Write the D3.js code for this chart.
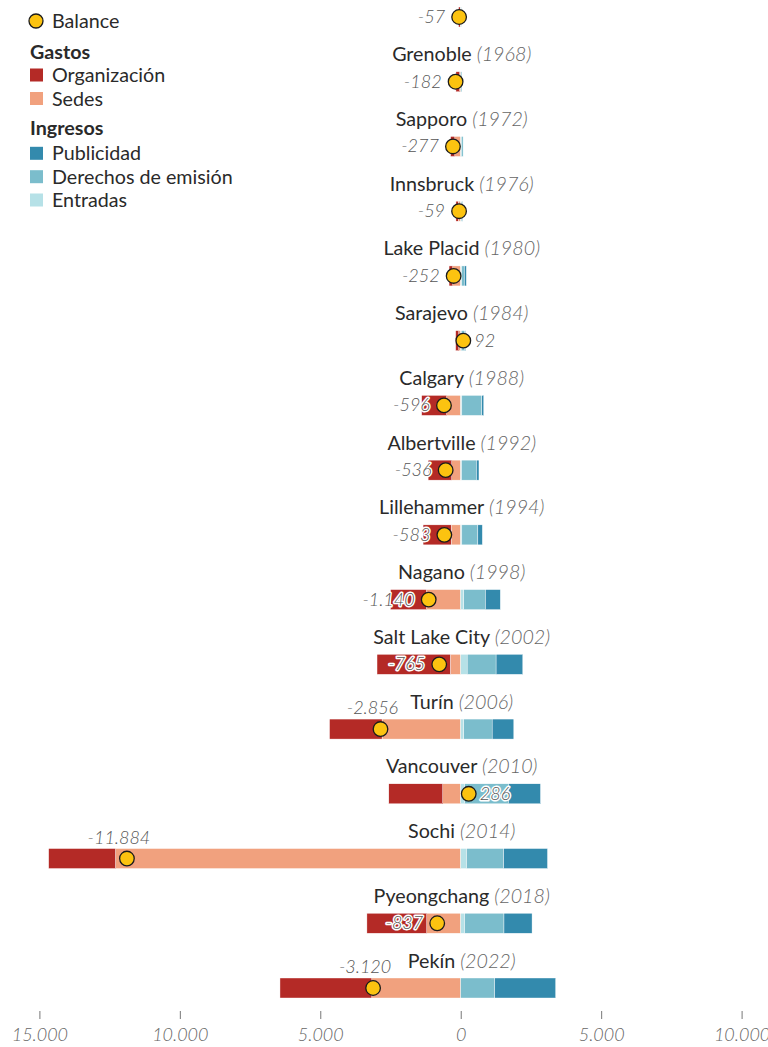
<!DOCTYPE html>
<html>
<head>
<meta charset="utf-8">
<script src="https://cdn.jsdelivr.net/npm/d3@7"></script>
<style>
  body { margin: 0; background: #fff; }
  text { font-family: Lato, "Open Sans", sans-serif; }
</style>
</head>
<body>
<div id="chart"></div>
<script>
// sedes / ediciones
var ciudades = ["Innsbruck", "Grenoble", "Sapporo", "Innsbruck ", "Lake Placid", "Sarajevo", "Calgary",
  "Albertville", "Lillehammer", "Nagano", "Salt Lake City", "Turín", "Vancouver", "Sochi", "Pyeongchang", "Pekín"];
var anios = [1964, 1968, 1972, 1976, 1980, 1984, 1988, 1992, 1994, 1998, 2002, 2006, 2010, 2014, 2018, 2022];

// gastos (millones)
var organizacion = [55, 130, 150, 80, 130, 110, 890, 840, 1000, 1280, 2610, 1870, 1920, 2380, 2130, 3270];
var sedes = [20, 40, 210, 90, 285, 70, 500, 320, 340, 1220, 370, 2800, 640, 12290, 1210, 3165];

// ingresos (millones)
var entradas = [5, 0, 25, 20, 35, 20, 40, 30, 40, 110, 230, 110, 140, 210, 140, 0];
var derechos = [15, 40, 60, 45, 95, 120, 710, 530, 570, 770, 1030, 1010, 1560, 1320, 1400, 1210];
var publicidad = [0, 0, 0, 15, 70, 30, 70, 90, 160, 530, 950, 770, 1140, 1560, 1000, 2170];

var balance = [-57, -182, -277, -59, -252, 92, -596, -536, -583, -1140, -765, -2856, 286, -11884, -837, -3120];

var ticks = [-15000, -10000, -5000, 0, 5000, 10000];

var colores = {
  organizacion: "#b42a26",
  sedes: "#f1a17e",
  publicidad: "#338aad",
  derechos: "#7bbdcc",
  entradas: "#b6e1e7",
  balance: "#fcc310"
};

var width = 768,
  height = 1047,
  fs = "19.7px",
  svg = d3.select("#chart").append("svg")
    .attr("width", width)
    .attr("height", height);

var x = d3.scaleLinear().domain([-15000, 10000]).range([39.4, 741.6]);
var y = d3.scalePoint().domain(d3.range(ciudades.length)).range([17, 988]);
var barH = 20;

var loc = d3.formatLocale({ decimal: ",", thousands: ".", grouping: [3], currency: ["", "€"], minus: "-" });
var fmt = loc.format(",d");

// filas: tramos apilados desde cero hacia fuera
var filas = ciudades.map(function (c, i) {
  var segs = [];
  var izq = 0;
  [["sedes", sedes[i]], ["organizacion", organizacion[i]]].forEach(function (s) {
    segs.push({ k: s[0], x0: izq - s[1], x1: izq });
    izq -= s[1];
  });
  var der = 0;
  [["entradas", entradas[i]], ["derechos", derechos[i]], ["publicidad", publicidad[i]]].forEach(function (s) {
    segs.push({ k: s[0], x0: der, x1: der + s[1] });
    der += s[1];
  });
  return { i: i, ciudad: c.trim(), anio: anios[i], segs: segs, bal: balance[i] };
});

var fila = svg.selectAll("g.fila")
  .data(filas)
  .enter().append("g")
  .attr("class", "fila")
  .attr("transform", function (d) { return "translate(0," + y(d.i) + ")"; });

// titulo de la fila
var titulo = fila.append("text")
  .attr("x", x(0) + 1)
  .attr("y", -20.5)
  .attr("text-anchor", "middle")
  .style("font-size", fs)
  .style("fill", "#2a2a2a");
titulo.append("tspan").text(function (d) { return d.ciudad + " "; });
titulo.append("tspan")
  .style("font-style", "italic")
  .style("font-weight", 300)
  .style("fill", "#666")
  .text(function (d) { return "(" + d.anio + ")"; });

fila.selectAll("rect")
  .data(function (d) { return d.segs.filter(function (s) { return s.x1 > s.x0; }); })
  .enter().append("rect")
  .attr("x", function (s) { return x(s.x0); })
  .attr("width", function (s) { return x(s.x1) - x(s.x0); })
  .attr("y", -barH / 2)
  .attr("height", barH)
  .style("fill", function (s) { return colores[s.k]; })
  .style("stroke", "#fff")
  .style("stroke-width", 0.4);

// etiqueta del balance
fila.append("text")
  .attr("x", function (d) {
    var cx = x(d.bal);
    if (Math.abs(d.bal) > 2000) return cx - 8;
    return d.bal < 0 ? cx - 14 : cx + 11;
  })
  .attr("y", function (d) { return Math.abs(d.bal) > 2000 ? -15 : 6; })
  .attr("text-anchor", function (d) {
    if (Math.abs(d.bal) > 2000) return "middle";
    return d.bal < 0 ? "end" : "start";
  })
  .style("font-size", "18px")
  .style("font-style", "italic")
  .style("font-weight", 300)
  .style("fill", "#555")
  .style("stroke", "#fff")
  .style("stroke-width", 3)
  .style("stroke-linejoin", "round")
  .style("paint-order", "stroke")
  .text(function (d) { return fmt(d.bal); });

fila.append("circle")
  .attr("cx", function (d) { return x(d.bal); })
  .attr("cy", 0)
  .attr("r", 7.3)
  .style("fill", colores.balance)
  .style("stroke", "#1b1b1b")
  .style("stroke-width", 1.3);

// eje
var eje = svg.append("g")
  .attr("transform", "translate(0,1011)")
  .call(d3.axisBottom(x).tickValues(ticks).tickSize(8).tickPadding(9)
    .tickFormat(function (d) { return fmt(Math.abs(d)); }));
eje.select(".domain").remove();
eje.selectAll("line").style("stroke", "#777");
eje.selectAll("text")
  .style("font-family", "Lato, sans-serif")
  .style("font-size", "18px")
  .style("font-style", "italic")
  .style("font-weight", 300)
  .style("fill", "#666");

// leyenda
var leyenda = svg.append("g");
leyenda.append("circle")
  .attr("cx", 36).attr("cy", 21).attr("r", 7)
  .style("fill", colores.balance).style("stroke", "#1b1b1b").style("stroke-width", 1.3);
leyenda.append("text").attr("x", 52).attr("y", 28).style("font-size", fs).style("fill", "#2a2a2a").text("Balance");

var grupos = [
  { t: "Gastos", y: 52, items: [["organizacion", "Organización", 75], ["sedes", "Sedes", 98.5]] },
  { t: "Ingresos", y: 128, items: [["publicidad", "Publicidad", 153.3], ["derechos", "Derechos de emisión", 176.7], ["entradas", "Entradas", 200]] }
];
grupos.forEach(function (g) {
  leyenda.append("text").attr("x", 30).attr("y", g.y + 7)
    .style("font-size", fs).style("font-weight", 700).style("fill", "#2a2a2a").text(g.t);
  g.items.forEach(function (it) {
    leyenda.append("rect").attr("x", 30).attr("y", it[2] - 6.5).attr("width", 13).attr("height", 13)
      .style("fill", colores[it[0]]);
    leyenda.append("text").attr("x", 52).attr("y", it[2] + 7)
      .style("font-size", fs).style("fill", "#2a2a2a").text(it[1]);
  });
});
</script>
</body>
</html>
